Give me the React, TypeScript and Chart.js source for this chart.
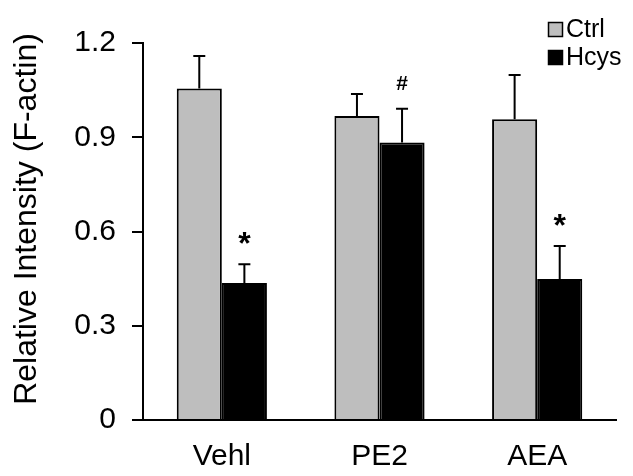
import React, { useEffect, useRef } from 'react';
import { Chart, registerables } from 'chart.js';

Chart.register(...registerables);

// ---- data ----
const categories = ['Vehl', 'PE2', 'AEA'];
const seriesNames = ['Ctrl', 'Hcys'];
const ctrlValues = [1.055, 0.968, 0.957];
const hcysValues = [0.436, 0.883, 0.449];
const ctrlErrors = [0.104, 0.07, 0.141];
const hcysErrors = [0.06, 0.108, 0.105];
const ctrlMarks = ['', '', ''];
const hcysMarks = ['*', '#', '*'];
const yTicks = [0, 0.3, 0.6, 0.9, 1.2];
const yTickLabels = ['0', '0.3', '0.6', '0.9', '1.2'];
const yTitle = 'Relative Intensity (F-actin)';

const FONT = '"Liberation Sans", Arial, Helvetica, sans-serif';
const COLORS = ['#bebebe', '#000000'];

const extrasPlugin = {
  id: 'extras',
  afterDatasetsDraw(chart: any) {
    const ctx = chart.ctx;
    const y = chart.scales.y;
    chart.data.datasets.forEach((ds: any, di: number) => {
      const meta = chart.getDatasetMeta(di);
      meta.data.forEach((el: any, i: number) => {
        const top = y.getPixelForValue(ds.data[i] + ds.errors[i]);
        ctx.save();
        ctx.strokeStyle = '#000';
        ctx.lineWidth = 2;
        ctx.beginPath();
        ctx.moveTo(el.x, el.y);
        ctx.lineTo(el.x, top);
        ctx.moveTo(el.x - 6, top);
        ctx.lineTo(el.x + 6, top);
        ctx.stroke();
        const mark = ds.marks[i];
        if (mark) {
          const size = mark === '*' ? 32 : 21;
          ctx.font = `bold ${size}px ${FONT}`;
          ctx.fillStyle = '#000';
          ctx.textAlign = 'center';
          ctx.textBaseline = 'alphabetic';
          const m = ctx.measureText(mark);
          const cy = top - 26;
          ctx.fillText(mark, el.x, cy + (m.actualBoundingBoxAscent - m.actualBoundingBoxDescent) / 2);
        }
        ctx.restore();
      });
    });
  },
  afterDraw(chart: any) {
    const ctx = chart.ctx;
    ctx.save();
    // y title
    ctx.translate(36, 219);
    ctx.rotate(-Math.PI / 2);
    ctx.font = `32px ${FONT}`;
    ctx.fillStyle = '#000';
    ctx.textAlign = 'center';
    ctx.textBaseline = 'alphabetic';
    ctx.fillText(yTitle, 0, 0);
    ctx.restore();
    // legend
    ctx.save();
    const rows = [29, 57];
    chart.data.datasets.forEach((ds: any, i: number) => {
      const cy = rows[i];
      ctx.fillStyle = ds.backgroundColor;
      ctx.fillRect(548, cy - 7, 15, 15);
      ctx.strokeStyle = '#000';
      ctx.lineWidth = 1.5;
      ctx.strokeRect(548.5, cy - 6.5, 14, 14);
      ctx.font = `25px ${FONT}`;
      ctx.fillStyle = '#000';
      ctx.textAlign = 'left';
      ctx.textBaseline = 'middle';
      ctx.fillText(ds.label, 566, cy + 1);
    });
    ctx.restore();
  },
};

export default function App() {
  const ref = useRef<HTMLCanvasElement>(null);
  useEffect(() => {
    if (!ref.current) return;
    const chart = new Chart(ref.current, {
      type: 'bar',
      data: {
        labels: categories,
        datasets: [
          {
            label: seriesNames[0],
            data: ctrlValues,
            errors: ctrlErrors,
            marks: ctrlMarks,
            backgroundColor: COLORS[0],
            borderColor: '#000',
            borderWidth: 2,
            barPercentage: 1,
            categoryPercentage: 0.572,
          } as any,
          {
            label: seriesNames[1],
            data: hcysValues,
            errors: hcysErrors,
            marks: hcysMarks,
            backgroundColor: COLORS[1],
            borderColor: '#000',
            borderWidth: 2,
            barPercentage: 1,
            categoryPercentage: 0.572,
          } as any,
        ],
      },
      options: {
        responsive: false,
        devicePixelRatio: 1,
        animation: false,
        events: [],
        layout: { padding: { top: 43, right: 17, left: 0, bottom: 0 } },
        plugins: {
          legend: { display: false },
          tooltip: { enabled: false },
        },
        scales: {
          x: {
            grid: { display: false, drawTicks: false },
            border: { display: true, color: '#000', width: 2 },
            ticks: { padding: 19, color: '#000', font: { family: FONT, size: 30 } },
            afterFit: (s: any) => {
              s.height = 56;
            },
          },
          y: {
            min: 0,
            max: 1.2,
            afterBuildTicks: (s: any) => {
              s.ticks = yTicks.map((v) => ({ value: v }));
            },
            afterFit: (s: any) => {
              s.width = 143;
            },
            grid: { drawOnChartArea: false, drawTicks: true, tickLength: 11, color: '#000', lineWidth: 2 },
            border: { display: true, color: '#000', width: 2 },
            ticks: {
              padding: 16,
              color: '#000',
              font: { family: FONT, size: 30 },
              callback: (v: any) => {
                const idx = yTicks.findIndex((t) => Math.abs(t - Number(v)) < 1e-9);
                return idx >= 0 ? yTickLabels[idx] : '';
              },
            },
          },
        },
      },
      plugins: [extrasPlugin],
    } as any);
    return () => chart.destroy();
  }, []);
  return (
    <div style={{ position: 'absolute', left: 0, top: 0, width: 633, height: 476, background: '#fff' }}>
      <canvas ref={ref} width={633} height={476} style={{ display: 'block' }} />
    </div>
  );
}
